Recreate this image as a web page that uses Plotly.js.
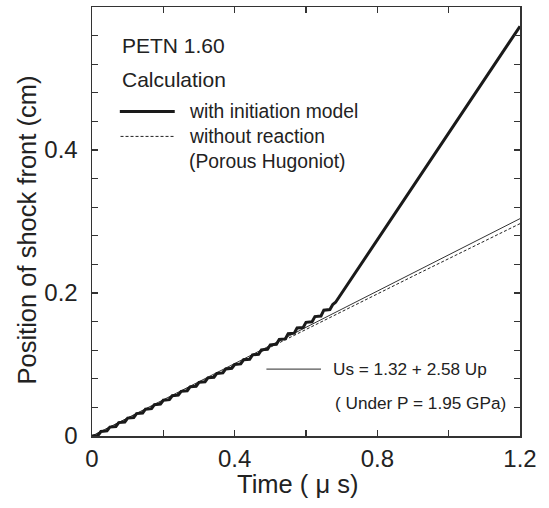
<!DOCTYPE html>
<html>
<head>
<meta charset="utf-8">
<script src="https://cdn.plot.ly/plotly-3.0.1.min.js"></script>
<style>html,body{margin:0;padding:0;background:#fff;}#chart{width:549px;height:508px;}</style>
</head>
<body>
<div id="chart"></div>
<script>
// Calculation with initiation model (staircase numerical front, then detonation build-up)
const withInitX = [0,0.017,0.025,0.042,0.05,0.067,0.075,0.092,0.1,0.117,0.125,0.142,0.15,0.167,0.175,0.192,0.2,0.217,0.225,0.242,0.25,0.267,0.275,0.292,0.3,0.317,0.325,0.342,0.35,0.367,0.375,0.392,0.4,0.417,0.425,0.442,0.45,0.467,0.475,0.492,0.5,0.517,0.525,0.542,0.55,0.567,0.575,0.592,0.6,0.617,0.625,0.642,0.65,0.667,0.675,0.683,1.2];
const withInitY = [0,0.0008,0.0063,0.0071,0.0125,0.0133,0.0188,0.0196,0.025,0.0258,0.0313,0.0321,0.0375,0.0383,0.0438,0.0446,0.05,0.0508,0.0563,0.0571,0.0625,0.0633,0.0688,0.0696,0.075,0.0758,0.0813,0.0821,0.0875,0.0883,0.0938,0.0946,0.1,0.1008,0.1066,0.1074,0.1135,0.1143,0.1205,0.1213,0.1275,0.1283,0.135,0.1358,0.143,0.1438,0.151,0.1518,0.159,0.1598,0.167,0.1678,0.176,0.1768,0.184,0.187,0.573];
// Calculation without reaction (porous Hugoniot)
const noReactX = [0,0.2,0.4,0.683,0.9,1.2];
const noReactY = [0,0.0497,0.0993,0.170,0.2235,0.297];
// Us = 1.32 + 2.58 Up (under P = 1.95 GPa)
const usFitX = [0,1.2];
const usFitY = [0,0.304];
// axis ticks
const xTickVals = [0,0.2,0.4,0.6,0.8,1.0,1.2];
const xTickText = ['0','','0.4','','0.8','','1.2'];
const yTickVals = [0,0.04,0.08,0.12,0.16,0.2,0.24,0.28,0.32,0.36,0.4,0.44,0.48,0.52,0.56];
const yTickText = ['0','','','','','0.2','','','','','0.4','','','',''];

const FONT = 'Liberation Sans, Arial, Helvetica, sans-serif';
const traces = [
  {x: usFitX, y: usFitY, mode: 'lines', line: {color: '#333', width: 1}, hoverinfo: 'skip'},
  {x: noReactX, y: noReactY, mode: 'lines', line: {color: '#222', width: 1, dash: '3px,2px'}, hoverinfo: 'skip'},
  {x: withInitX, y: withInitY, mode: 'lines', line: {color: '#1a1a1a', width: 3}, hoverinfo: 'skip'}
];
const txt = (x, y, t, s) => ({x: x, y: y, xref: 'x', yref: 'y', text: t, showarrow: false, xanchor: 'left', yanchor: 'middle', font: {family: FONT, size: s, color: '#222'}});
const layout = {
  width: 549, height: 508,
  margin: {l: 92, r: 29, t: 7, b: 72},
  paper_bgcolor: '#fff', plot_bgcolor: '#fff',
  showlegend: false,
  font: {family: FONT, color: '#222'},
  xaxis: {
    range: [0, 1.2], tickmode: 'array', tickvals: xTickVals, ticktext: xTickText,
    ticks: 'inside', ticklen: 6, tickwidth: 1.2, tickcolor: '#333',
    showline: true, linecolor: '#333', linewidth: 1.5, mirror: 'ticks',
    showgrid: false, zeroline: false,
    tickfont: {family: FONT, size: 24, color: '#222'}, ticklabelstandoff: 1,
    title: {text: ''}
  },
  yaxis: {
    range: [0, 0.6], tickmode: 'array', tickvals: yTickVals, ticktext: yTickText,
    ticks: 'inside', ticklen: 6, tickwidth: 1.2, tickcolor: '#333',
    showline: true, linecolor: '#333', linewidth: 1.5, mirror: 'ticks',
    showgrid: false, zeroline: false,
    tickfont: {family: FONT, size: 24, color: '#222'}, ticklabelstandoff: 8,
    title: {text: ''}
  },
  shapes: [
    {type: 'line', xref: 'x', yref: 'y', x0: 0.078, x1: 0.232, y0: 0.454, y1: 0.454, line: {color: '#1a1a1a', width: 3}},
    {type: 'line', xref: 'x', yref: 'y', x0: 0.08, x1: 0.232, y0: 0.419, y1: 0.419, line: {color: '#222', width: 1, dash: '3px,2px'}},
    {type: 'line', xref: 'x', yref: 'y', x0: 0.489, x1: 0.642, y0: 0.0936, y1: 0.0936, line: {color: '#555', width: 1.2}}
  ],
  annotations: [
    {xref: 'paper', yref: 'paper', x: 0, y: 0.5, xanchor: 'center', yanchor: 'middle', xshift: -66, yshift: -9,
     textangle: -90, showarrow: false, text: 'Position of shock front (cm)', font: {family: FONT, size: 25.5, color: '#222'}},
    {xref: 'paper', yref: 'paper', x: 0.5, y: 0, xanchor: 'center', yanchor: 'middle', xshift: -9, yshift: -48,
     showarrow: false, text: 'Time ( μ s)', font: {family: FONT, size: 25.5, color: '#222'}},
    txt(0.079, 0.546, 'PETN 1.60', 21),
    txt(0.079, 0.498, 'Calculation', 21),
    txt(0.266, 0.454, 'with initiation model', 19.3),
    txt(0.266, 0.419, 'without reaction', 19.3),
    txt(0.266, 0.384, '(Porous Hugoniot)', 19.3),
    txt(0.671, 0.0936, 'Us = 1.32 + 2.58 Up', 17.2),
    txt(0.675, 0.0468, '( Under P = 1.95 GPa)', 17.2)
  ]
};
Plotly.newPlot('chart', traces, layout, {staticPlot: true, displayModeBar: false});
</script>
</body>
</html>
